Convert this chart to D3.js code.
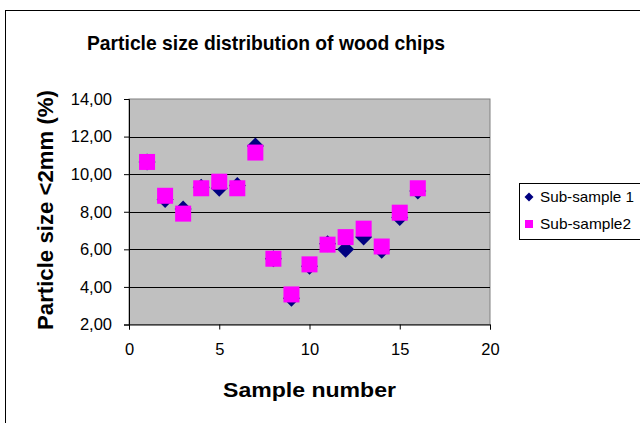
<!DOCTYPE html>
<html><head><meta charset="utf-8">
<script src="https://cdn.jsdelivr.net/npm/d3@7"></script>
<style>body{margin:0;background:#fff}svg{display:block;font-family:"Liberation Sans",Arial,sans-serif}</style>
</head><body>
<svg id="c" width="640" height="423"></svg>
<script>
const samples = [1,2,3,4,5,6,7,8,9,10,11,12,13,14,15,16];
const subSample1 = [10.65,8.65,8.15,9.3,9.25,9.4,11.5,5.5,3.4,5.1,6.3,6.0,6.65,5.95,7.7,9.1];
const subSample2 = [10.65,8.85,7.9,9.25,9.6,9.25,11.15,5.5,3.6,5.2,6.25,6.65,7.1,6.15,7.95,9.25];
const xTicks = [0,5,10,15,20];
const yTicks = [2,4,6,8,10,12,14];
const seriesNames = ["Sub-sample 1","Sub-sample2"];

const FF = "'Liberation Sans',Arial,sans-serif";
const svg = d3.select("#c");
const L=129, R=490, T=99, B=324.5;
const x = d3.scaleLinear().domain([0,20]).range([L,R]);
const y = d3.scaleLinear().domain([2,14]).range([B,T]);
const fmt = d => d.toFixed(2).replace(".",",");

// outer chart border
svg.append("rect").attr("x",5.5).attr("y",10.5).attr("width",700).attr("height",500)
  .attr("fill","#fff").attr("stroke","#000").attr("stroke-width",1);

// title
svg.append("text").attr("x",266).attr("y",50).attr("text-anchor","middle").attr("font-family",FF)
  .attr("font-size",20.5).attr("font-weight","bold").attr("textLength",358).attr("lengthAdjust","spacingAndGlyphs")
  .text("Particle size distribution of wood chips");

// plot area
svg.append("rect").attr("x",L).attr("y",T).attr("width",R-L).attr("height",B-T)
  .attr("fill","#C0C0C0").attr("stroke","#808080").attr("stroke-width",1);

// gridlines
svg.append("g").selectAll("line").data(yTicks.filter(v=>v>2&&v<14)).join("line")
  .attr("x1",L).attr("x2",R).attr("y1",d=>Math.round(y(d))+0.5).attr("y2",d=>Math.round(y(d))+0.5)
  .attr("stroke","#000").attr("stroke-width",1);

// axes
const yAxis = d3.axisLeft(y).tickValues(yTicks).tickFormat(fmt).tickSize(5).tickPadding(12);
const gy = svg.append("g").attr("transform",`translate(${L},0)`).call(yAxis);
const xAxis = d3.axisBottom(x).tickValues(xTicks).tickSize(5).tickPadding(14);
const gx = svg.append("g").attr("transform",`translate(0,${B})`).call(xAxis);
[gy,gx].forEach(g=>{
  g.select(".domain").attr("stroke","#000");
  g.selectAll(".tick line").attr("stroke","#000");
  g.selectAll("text").attr("font-size",16.5).attr("fill","#000").attr("font-family",FF);
});

// axis titles
svg.append("text").attr("transform","translate(53,210) rotate(-90)").attr("text-anchor","middle").attr("font-family",FF)
  .attr("font-size",21.5).attr("font-weight","bold").attr("textLength",240).attr("lengthAdjust","spacingAndGlyphs")
  .text("Particle size <2mm (%)");
svg.append("text").attr("x",309.5).attr("y",396.7).attr("text-anchor","middle").attr("font-family",FF)
  .attr("font-size",20.5).attr("font-weight","bold").attr("textLength",173).attr("lengthAdjust","spacingAndGlyphs")
  .text("Sample number");

// markers
const diamond = (cx,cy,h)=>`M${cx},${cy-h}L${cx+h},${cy}L${cx},${cy+h}L${cx-h},${cy}Z`;
svg.append("g").selectAll("path").data(samples.map((s,i)=>[s,subSample1[i]])).join("path")
  .attr("d",d=>diamond(x(d[0]),y(d[1]),8.5)).attr("fill","#000080");
svg.append("g").selectAll("rect").data(samples.map((s,i)=>[s,subSample2[i]])).join("rect")
  .attr("x",d=>x(d[0])-8).attr("y",d=>y(d[1])-8).attr("width",16).attr("height",16)
  .attr("fill","#FF00FF");

// legend
const lg = svg.append("g").attr("font-family",FF);
lg.append("rect").attr("x",519.5).attr("y",183.5).attr("width",140).attr("height",56)
  .attr("fill","#fff").attr("stroke","#000");
lg.append("path").attr("d",diamond(529,197,4.5)).attr("fill","#000080");
lg.append("rect").attr("x",525).attr("y",220).attr("width",8).attr("height",8).attr("fill","#FF00FF");
lg.append("text").attr("x",540).attr("y",202).attr("font-size",14.5).attr("textLength",94).attr("lengthAdjust","spacingAndGlyphs").text(seriesNames[0]);
lg.append("text").attr("x",540).attr("y",229).attr("font-size",14.5).attr("textLength",91).attr("lengthAdjust","spacingAndGlyphs").text(seriesNames[1]);
</script>
</body></html>
